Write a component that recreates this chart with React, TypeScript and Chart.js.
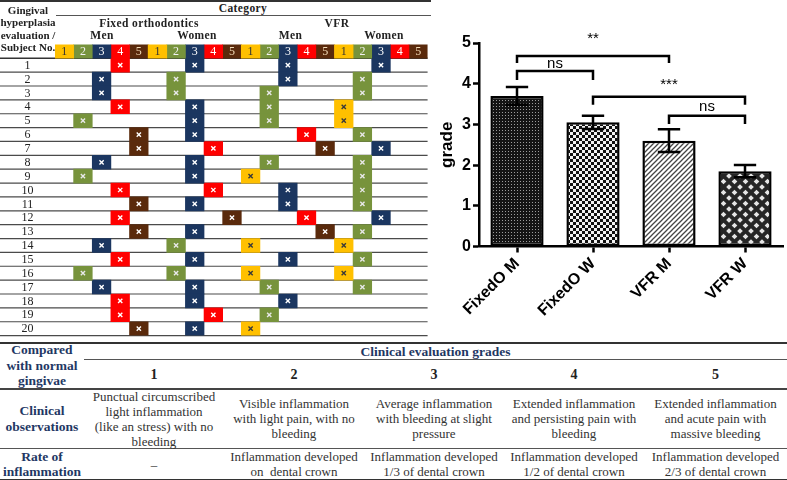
import React, { useEffect, useRef } from 'react';
import { Chart, registerables } from 'chart.js';

Chart.register(...registerables);

const SERIF = '"Liberation Serif", "Times New Roman", serif';
const SANS = '"Liberation Sans", Arial, sans-serif';

// ---------- Bar chart data ----------
const barCategories = ['FixedO M', 'FixedO W', 'VFR M', 'VFR W'];
const barMeans = [3.7, 3.05, 2.6, 1.85];
const barErrors = [0.22, 0.16, 0.28, 0.15];
const yAxisMin = 0;
const yAxisMax = 5;

const sigLabels = ['**', 'ns', '***', 'ns'];
const sigFrom = ['FixedO M', 'FixedO M', 'FixedO W', 'VFR M'];
const sigTo = ['VFR M', 'FixedO W', 'VFR W', 'VFR W'];
const sigTop = [4.68, 4.31, 3.68, 3.21];
const sigLeg = [4.51, 4.09, 3.48, 3.01];
const sigTextY = [5.01, 4.38, 3.87, 3.34];

// ---------- Grid (left table) data ----------
const gradeLevels = [1, 2, 3, 4, 5];
const gradeColors = ['#FFC000', '#77933C', '#1B3660', '#FF0000', '#5A2A0C'];
const markColors = ['#3a3a3a', '#e8e8e8', '#ffffff', '#ffffff', '#ffffff'];
const headerTextColors = ['#333333', '#f2f2f2', '#ffffff', '#ffffff', '#f3dcb8'];
const HEADER_ROW = 'grade';
const subjectLabels = ['1', '2', '3', '4', '5', '6', '7', '8', '9', '10', '11', '12', '13', '14', '15', '16', '17', '18', '19', '20'];
const fixedMen = [4, 3, 3, 4, 2, 5, 5, 3, 2, 4, 5, 4, 5, 3, 4, 2, 3, 4, 4, 5];
const fixedWomen = [3, 2, 2, 3, 3, 3, 4, 3, 3, 4, 3, 5, 3, 2, 3, 2, 3, 3, 4, 3];
const vfrMen = [3, 3, 2, 2, 2, 4, 5, 2, 1, 3, 3, 4, 5, 1, 3, 1, 2, 3, 2, 1];
const vfrWomen = [3, 2, 2, 1, 1, 2, 3, 2, 2, 2, 2, 3, 2, 1, 2, 1, 2, null, null, null];
const groupSeries = [fixedMen, fixedWomen, vfrMen, vfrWomen];
const treatmentNames = ['Fixed orthodontics', 'VFR'];
const sexNames = ['Men', 'Women', 'Men', 'Women'];

// ---------- Bottom table data ----------
const gradeObservations = [
  'Punctual circumscribed\nlight inflammation\n(like an stress) with no\nbleeding',
  'Visible inflammation\nwith light pain, with no\nbleeding',
  'Average inflammation\nwith bleeding at slight\npressure',
  'Extended inflammation\nand persisting pain with\nbleeding',
  'Extended inflammation\nand acute pain with\nmassive bleeding',
];
const gradeRates = [
  '–',
  'Inflammation developed\non  dental crown',
  'Inflammation developed\n1/3 of dental crown',
  'Inflammation developed\n1/2 of dental crown',
  'Inflammation developed\n2/3 of dental crown',
];

function makePattern(kind: number): any {
  const c = document.createElement('canvas');
  const ctx = c.getContext('2d')!;
  if (kind === 0) {
    c.width = 3; c.height = 3;
    ctx.fillStyle = '#141414'; ctx.fillRect(0, 0, 3, 3);
    ctx.fillStyle = '#9c9c9c'; ctx.fillRect(1, 1, 1, 1);
  } else if (kind === 1) {
    c.width = 6; c.height = 6;
    ctx.fillStyle = '#111'; ctx.fillRect(0, 0, 6, 6);
    ctx.fillStyle = '#f2f2f2'; ctx.fillRect(0, 0, 3, 3); ctx.fillRect(3, 3, 3, 3);
  } else if (kind === 2) {
    c.width = 5; c.height = 5;
    ctx.fillStyle = '#fff'; ctx.fillRect(0, 0, 5, 5);
    ctx.strokeStyle = '#444'; ctx.lineWidth = 1.3;
    ctx.beginPath();
    ctx.moveTo(-1, 6); ctx.lineTo(6, -1);
    ctx.moveTo(-1, 1); ctx.lineTo(1, -1);
    ctx.moveTo(4, 6); ctx.lineTo(6, 4);
    ctx.stroke();
  } else {
    c.width = 11; c.height = 11;
    ctx.fillStyle = '#262626'; ctx.fillRect(0, 0, 11, 11);
    ctx.fillStyle = '#e6e6e6';
    const d = (cx: number, cy: number) => {
      ctx.beginPath();
      ctx.moveTo(cx, cy - 2.8); ctx.lineTo(cx + 2.8, cy); ctx.lineTo(cx, cy + 2.8); ctx.lineTo(cx - 2.8, cy);
      ctx.closePath(); ctx.fill();
    };
    d(5.5, 5.5); d(0, 0); d(11, 0); d(0, 11); d(11, 11);
  }
  return ctx.createPattern(c, 'repeat');
}

function buildGridConfig(): any {
  const rowLabels = [HEADER_ROW, ...subjectLabels];
  const datasets: any[] = [];
  gradeLevels.forEach((grade, g) => {
    const cells: any[] = [];
    const marks: any[] = [];
    groupSeries.forEach((series, k) => {
      const col = k * gradeLevels.length + g;
      cells.push({ x: [col, col + 1], y: HEADER_ROW, header: true });
      series.forEach((v, s) => {
        if (v === grade) {
          cells.push({ x: [col, col + 1], y: subjectLabels[s] });
          marks.push({ x: col + 0.5, y: subjectLabels[s] });
        }
      });
    });
    datasets.push({
      type: 'bar', data: cells, backgroundColor: gradeColors[g], borderWidth: 0,
      grouped: false, barPercentage: 1, categoryPercentage: 1, order: 2,
    });
    datasets.push({
      type: 'line', data: marks, showLine: false, pointStyle: 'crossRot', pointRadius: 3,
      pointBorderWidth: 1.4, pointBorderColor: markColors[g], pointBackgroundColor: markColors[g],
      pointHoverRadius: 3, order: 1,
    });
  });

  const tablePlugin = {
    id: 'tableLook',
    beforeDatasetsDraw(chart: any) {
      const ys = chart.scales.y;
      const ctx = chart.ctx;
      const n = rowLabels.length;
      const h = ys.getPixelForValue(1) - ys.getPixelForValue(0);
      ctx.save();
      for (let i = 1; i <= n; i++) {
        const y = ys.getPixelForValue(i - 1) + h / 2;
        ctx.strokeStyle = i === 1 ? '#333' : '#4a4a4a';
        ctx.lineWidth = i === 1 ? 1.5 : 1.2;
        ctx.beginPath();
        ctx.moveTo(0, y);
        ctx.lineTo(chart.chartArea.right, y);
        ctx.stroke();
      }
      // subject numbers in the left column
      ctx.fillStyle = '#222';
      ctx.font = `12px ${SERIF}`;
      ctx.textAlign = 'center';
      ctx.textBaseline = 'middle';
      for (let i = 1; i < n; i++) {
        ctx.fillText(rowLabels[i], chart.chartArea.left / 2, ys.getPixelForValue(i) + 0.5);
      }
      ctx.restore();
    },
    afterDatasetsDraw(chart: any) {
      const ctx = chart.ctx;
      ctx.save();
      ctx.font = `12px ${SERIF}`;
      ctx.textAlign = 'center';
      ctx.textBaseline = 'middle';
      chart.data.datasets.forEach((ds: any, di: number) => {
        if (ds.type !== 'bar') return;
        const g = di / 2;
        const meta = chart.getDatasetMeta(di);
        meta.data.forEach((el: any, j: number) => {
          if (!ds.data[j].header) return;
          ctx.fillStyle = headerTextColors[g];
          ctx.fillText(String(gradeLevels[g]), (el.x + el.base) / 2, el.y + 0.5);
        });
      });
      ctx.restore();
    },
  };

  return {
    type: 'bar',
    data: { labels: rowLabels, datasets },
    options: {
      indexAxis: 'y',
      responsive: false,
      animation: false,
      events: [],
      layout: { padding: { top: 1, bottom: 3.5, left: 0, right: 1 } },
      plugins: { legend: { display: false }, tooltip: { enabled: false } },
      scales: {
        x: { type: 'linear', min: 0, max: groupSeries.length * gradeLevels.length, display: false },
        y: {
          type: 'category',
          offset: true,
          grid: { display: false, drawTicks: false },
          border: { display: false },
          afterFit: (s: any) => { s.width = 55; },
          ticks: { display: false, padding: 0 },
        },
      },
    },
    plugins: [tablePlugin],
  };
}

function buildBarConfig(): any {
  const patterns = [0, 1, 2, 3].map(makePattern);
  const datasets: any[] = [{
    type: 'bar', data: barMeans, backgroundColor: patterns, borderColor: '#000',
    borderWidth: 2.5, borderSkipped: false, barPercentage: 0.7, categoryPercentage: 1, order: 2,
  }];
  sigLabels.forEach((_l, i) => {
    datasets.push({
      type: 'line',
      data: [
        { x: sigFrom[i], y: sigLeg[i] },
        { x: sigFrom[i], y: sigTop[i] },
        { x: sigTo[i], y: sigTop[i] },
        { x: sigTo[i], y: sigLeg[i] },
      ],
      borderColor: '#000', borderWidth: 2.5, pointRadius: 0, fill: false, tension: 0,
      borderJoinStyle: 'miter', order: 1, clip: false,
    });
  });

  const annotPlugin = {
    id: 'errorsAndSig',
    afterDatasetsDraw(chart: any) {
      const ctx = chart.ctx;
      const xs = chart.scales.x;
      const ys = chart.scales.y;
      const meta = chart.getDatasetMeta(0);
      ctx.save();
      ctx.strokeStyle = '#000';
      ctx.lineWidth = 2.5;
      meta.data.forEach((bar: any, i: number) => {
        const x = bar.x;
        const top = ys.getPixelForValue(barMeans[i] + barErrors[i]);
        const bot = ys.getPixelForValue(barMeans[i] - barErrors[i]);
        const cap = bar.width * 0.21;
        ctx.beginPath();
        ctx.moveTo(x, top); ctx.lineTo(x, bot);
        ctx.moveTo(x - cap, top); ctx.lineTo(x + cap, top);
        ctx.moveTo(x - cap, bot); ctx.lineTo(x + cap, bot);
        ctx.stroke();
      });
      ctx.fillStyle = '#000';
      ctx.font = `15px ${SANS}`;
      ctx.textAlign = 'center';
      ctx.textBaseline = 'alphabetic';
      sigLabels.forEach((lab, i) => {
        const x1 = xs.getPixelForValue(barCategories.indexOf(sigFrom[i]));
        const x2 = xs.getPixelForValue(barCategories.indexOf(sigTo[i]));
        ctx.fillText(lab, (x1 + x2) / 2, ys.getPixelForValue(sigTextY[i]));
      });
      ctx.restore();
    },
  };

  return {
    type: 'bar',
    data: { labels: barCategories, datasets },
    options: {
      responsive: false,
      animation: false,
      events: [],
      layout: { padding: { top: 43, left: 0, right: 4, bottom: 0 } },
      plugins: { legend: { display: false }, tooltip: { enabled: false } },
      scales: {
        x: {
          type: 'category',
          offset: true,
          border: { color: '#000', width: 2.5 },
          grid: { offset: false, drawOnChartArea: false, tickLength: 6, tickColor: '#000', tickWidth: 2.5 },
          afterFit: (s: any) => { s.height = 91.5; },
          ticks: {
            autoSkip: false, minRotation: 45, maxRotation: 45, padding: 2, color: '#000',
            font: { family: SANS, size: 16, weight: 'bold' },
          },
        },
        y: {
          type: 'linear',
          min: yAxisMin,
          max: yAxisMax,
          border: { color: '#000', width: 2.5 },
          grid: { drawOnChartArea: false, tickLength: 6, tickColor: '#000', tickWidth: 2.5 },
          afterFit: (s: any) => { s.width = 47; },
          title: {
            display: true, text: 'grade', color: '#000',
            font: { family: SANS, size: 17, weight: 'bold' },
            padding: { top: 5, bottom: 0 },
          },
          ticks: {
            stepSize: 1, padding: 2, color: '#000',
            font: { family: SANS, size: 16, weight: 'bold' },
          },
        },
      },
    },
    plugins: [annotPlugin],
  };
}

const abs = (left: number, top: number, extra: any = {}): any => ({ position: 'absolute', left, top, ...extra });

function CenterText({ x, y, children, style }: any) {
  return (
    <div style={{ position: 'absolute', left: x, top: y, transform: 'translate(-50%, -50%)', whiteSpace: 'nowrap', ...style }}>
      {children}
    </div>
  );
}

export default function App() {
  const gridRef = useRef<HTMLCanvasElement>(null);
  const barRef = useRef<HTMLCanvasElement>(null);

  useEffect(() => {
    const gridChart = new Chart(gridRef.current!, buildGridConfig());
    const barChart = new Chart(barRef.current!, buildBarConfig());
    return () => {
      gridChart.destroy();
      barChart.destroy();
    };
  }, []);

  const headBold = { fontFamily: SERIF, fontWeight: 'bold', fontSize: 11.5, color: '#222', letterSpacing: '0.4px' };
  const navy = '#1F3864';
  const colLeft = [0, 84, 224, 364, 504, 644];
  const colWidth = [84, 140, 140, 140, 140, 143];
  const cellBase = {
    position: 'absolute', display: 'flex', alignItems: 'center', justifyContent: 'center',
    textAlign: 'center', whiteSpace: 'pre', fontFamily: SERIF, lineHeight: '15px',
  };
  const cell = (col: number, top: number, height: number, width?: number) => ({
    ...cellBase, left: colLeft[col], top, width: width ?? colWidth[col], height,
  });
  const sexCenters = [102, 197, 290.6, 384];
  const treatCenters = [149, 337];

  return (
    <div style={{ position: 'fixed', left: 0, top: 0, width: 787, height: 480, background: '#fff', overflow: 'hidden' }}>
      {/* Left table */}
      <canvas ref={gridRef} width={432} height={300} style={abs(0, 40, { display: 'block' })} />
      <div style={abs(0, 0, { width: 431, height: 2, background: '#333' })} />
      <div style={abs(0, 4, { width: 56, textAlign: 'center', lineHeight: '12.3px', ...headBold, letterSpacing: 0, fontSize: 11 })}>
        Gingival<br />hyperplasia<br />evaluation /<br />Subject No.
      </div>
      <CenterText x={243} y={8} style={headBold}>Category</CenterText>
      <div style={abs(56, 15, { width: 375, height: 1, background: '#555' })} />
      {treatmentNames.map((t, i) => (
        <CenterText key={'t' + i} x={treatCenters[i]} y={23} style={headBold}>{t}</CenterText>
      ))}
      {sexNames.map((s, i) => (
        <CenterText key={'s' + i} x={sexCenters[i]} y={35} style={headBold}>{s}</CenterText>
      ))}

      {/* Bar chart */}
      <canvas ref={barRef} width={355} height={338} style={abs(432, 0, { display: 'block' })} />

      {/* Bottom table */}
      <div style={abs(0, 342, { width: 787, height: 2, background: '#333' })} />
      <div style={abs(84, 359, { width: 703, height: 1, background: '#555' })} />
      <div style={abs(0, 388, { width: 787, height: 1.5, background: '#444' })} />
      <div style={abs(0, 448, { width: 787, height: 1, background: '#555' })} />
      <div style={abs(0, 478.5, { width: 787, height: 1.5, background: '#333' })} />

      <div style={{ ...cell(0, 343, 45), fontWeight: 'bold', color: navy, fontSize: 13.5, lineHeight: '15.5px' }}>
        {'Compared\nwith normal\ngingivae'}
      </div>
      <div style={{ ...cellBase, left: 84, top: 343, width: 703, height: 16, fontWeight: 'bold', color: navy, fontSize: 13.5 }}>
        Clinical evaluation grades
      </div>
      {gradeLevels.map((g, i) => (
        <div key={'g' + i} style={{ ...cell(i + 1, 360, 28), fontWeight: 'bold', color: '#222', fontSize: 14 }}>{String(g)}</div>
      ))}
      <div style={{ ...cell(0, 389, 59), fontWeight: 'bold', color: navy, fontSize: 13.5, lineHeight: '15.5px' }}>
        {'Clinical\nobservations'}
      </div>
      {gradeObservations.map((t, i) => (
        <div key={'o' + i} style={{ ...cell(i + 1, 389, 59), color: '#333', fontSize: 13 }}>{t}</div>
      ))}
      <div style={{ ...cell(0, 449, 30), fontWeight: 'bold', color: navy, fontSize: 13.5, lineHeight: '15.5px' }}>
        {'Rate of\ninflammation'}
      </div>
      {gradeRates.map((t, i) => (
        <div key={'r' + i} style={{ ...cell(i + 1, 449, 30), color: '#333', fontSize: 13 }}>{t}</div>
      ))}
    </div>
  );
}
